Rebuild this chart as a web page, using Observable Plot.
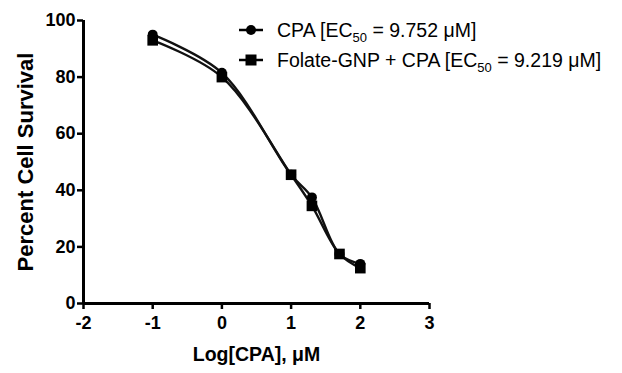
<!DOCTYPE html>
<html><head><meta charset="utf-8">
<script src="https://cdn.jsdelivr.net/npm/d3@7"></script>
<script src="https://cdn.jsdelivr.net/npm/@observablehq/plot@0.6"></script>
<style>
body{margin:0;background:#fff;font-family:"Liberation Sans",Arial,sans-serif;}
#wrap{position:relative;width:622px;height:373px;}
#legend{position:absolute;left:239px;top:15px;font-size:19.5px;color:#000;}
#legend .row{display:flex;align-items:center;height:30px;}
#legend svg{margin-right:14px;}
sub{font-size:13px;vertical-align:-5px;line-height:0;}
</style></head>
<body><div id="wrap"><div id="legend"></div></div>
<script>
const logConc = [-1, 0, 1, 1.301, 1.699, 2];
const cpaSurvival = [95, 81.5, 45.5, 37.5, 17.5, 14];
const folateSurvival = [93, 80, 45.5, 34.5, 17.5, 12.5];
const seriesNames = ["CPA [EC50 = 9.752 μM]", "Folate-GNP + CPA [EC50 = 9.219 μM]"];
const xTicks = [-2, -1, 0, 1, 2, 3];
const yTicks = [0, 20, 40, 60, 80, 100];

const cpa = logConc.map((x, i) => ({x, y: cpaSurvival[i]}));
const fol = logConc.map((x, i) => ({x, y: folateSurvival[i]}));

const font = "Liberation Sans, Arial, sans-serif";
const chart = Plot.plot({
  width: 622, height: 373,
  marginLeft: 83, marginRight: 193, marginTop: 20, marginBottom: 70,
  style: {fontFamily: font, background: "white", overflow: "visible"},
  x: {domain: [-2, 3]},
  y: {domain: [0, 100]},
  marks: [
    Plot.line(fol, {x: "x", y: "y", curve: "catmull-rom", stroke: "#111", strokeWidth: 2.4}),
    Plot.line(cpa, {x: "x", y: "y", curve: "catmull-rom", stroke: "#111", strokeWidth: 2.4}),
    Plot.dot(cpa, {x: "x", y: "y", r: 5, fill: "#000", symbol: "circle"}),
    Plot.dot(fol, {x: "x", y: "y", r: 6, fill: "#000", symbol: "square"}),
    Plot.axisX({ticks: xTicks, tickSize: 6, strokeWidth: 2.5, tickPadding: 7, fontSize: 18, fontWeight: "bold", label: null, tickFormat: d => String(d).replace("−","-")}),
    Plot.axisY({ticks: yTicks, tickSize: 6, strokeWidth: 2.5, tickPadding: 2, fontSize: 18, fontWeight: "bold", label: null}),
    Plot.ruleX([-2], {stroke: "#000", strokeWidth: 3}),
    Plot.ruleY([0], {stroke: "#000", strokeWidth: 3}),
    Plot.text(["Log[CPA], μM"], {frameAnchor: "bottom", dy: 57, fontSize: 19.5, fontWeight: "bold", fill: "#000"}),
    Plot.text(["Percent Cell Survival"], {frameAnchor: "left", textAnchor: "middle", dx: -58, dy: 0, rotate: -90, fontSize: 22, fontWeight: "bold", fill: "#000"})
  ]
});
document.getElementById("wrap").prepend(chart);
chart.style.position = "absolute"; chart.style.left = "0"; chart.style.top = "0";

const legend = document.getElementById("legend");
const marks = ['<circle cx="12" cy="8" r="5" fill="#000"/>', '<rect x="6.5" y="2.5" width="11" height="11" fill="#000"/>'];
seriesNames.forEach((name, i) => {
  const row = document.createElement("div");
  row.className = "row";
  const html = name.replace("EC50", "EC<sub>50</sub>");
  row.innerHTML = `<svg width="24" height="16"><line x1="0" x2="24" y1="8" y2="8" stroke="#000" stroke-width="2.5"/>${marks[i]}</svg><span>${html}</span>`;
  legend.appendChild(row);
});
</script></body></html>
